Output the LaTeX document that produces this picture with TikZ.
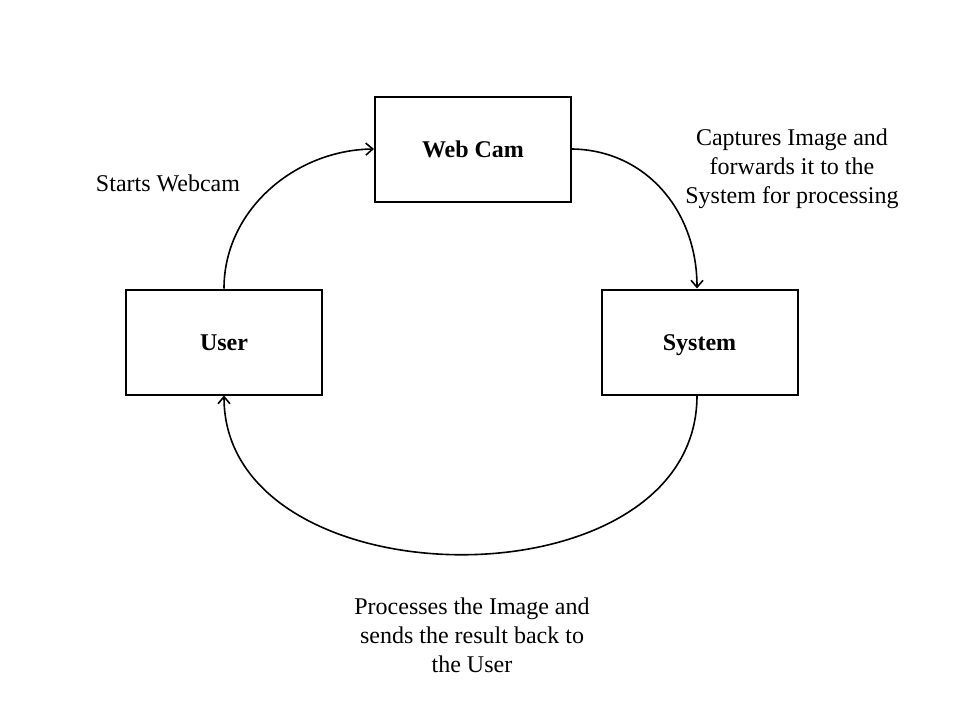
\documentclass[tikz,border=0pt]{standalone}
\usepackage{fontspec}
\setmainfont{Liberation Serif}
\usetikzlibrary{arrows.meta}
\begin{document}
\begin{tikzpicture}[x=1pt,y=-1pt,
  box/.style={draw,line width=2pt,minimum width=196pt,minimum height=105pt,font=\fontsize{24}{29}\selectfont\bfseries,inner sep=0pt,text height=19pt,text depth=2pt},
  conn/.style={line width=1.6pt,-{Straight Barb[length=7pt,width=12pt,line width=1.6pt]}},
  lbl/.style={align=center,font=\fontsize{24}{29}\selectfont,inner sep=0pt}]
\useasboundingbox (0,0) rectangle (960,720);
\fill[white] (0,0) rectangle (960,720);
\node[box] (web) at (473,149) {Web Cam};
\node[box] (user) at (224,342) {User};
\node[box] (sys) at (699.5,342) {System};
\draw[conn] (user.north) .. controls (224,210) and (295,150) .. (web.west);
\draw[conn] (web.east) .. controls (645,150) and (697,210) .. (sys.north -| 697,0);
\draw[conn] (sys.south -| 697,0) .. controls (697,610) and (224,605) .. (user.south);
\node[lbl] (l1) at (168,183) {Starts Webcam};
\node[lbl] (l2) at (792,169) {Captures Image and\\forwards it to the\\System for processing};
\node[lbl] (l3) at (472,635) {Processes the Image and\\sends the result back to\\the User};
\end{tikzpicture}
\end{document}
